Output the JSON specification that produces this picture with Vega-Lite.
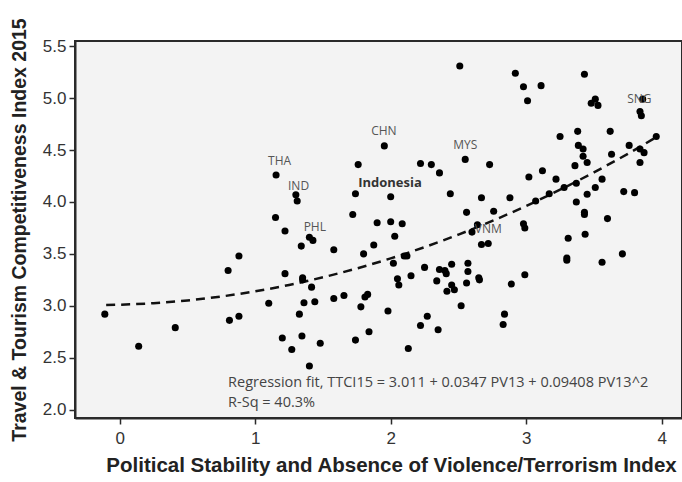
{
  "$schema": "https://vega.github.io/schema/vega-lite/v6.json",
  "width": 607,
  "height": 377,
  "autosize": {"type": "none"},
  "padding": {"left": 75, "top": 41, "right": 0, "bottom": 64},
  "background": "white",
  "config": {
    "view": {"fill": "#f3f3f3", "stroke": "#2a2a2a", "strokeWidth": 2},
    "axis": {
      "grid": false,
      "domainColor": "#2a2a2a",
      "domainWidth": 2,
      "tickColor": "#2a2a2a",
      "tickSize": 6,
      "tickWidth": 1.5,
      "labelFont": "Liberation Sans",
      "labelFontSize": 17,
      "labelColor": "#333",
      "titleFont": "Liberation Sans",
      "titleFontWeight": "bold",
      "titleColor": "#222"
    }
  },
  "datasets": {
    "pts": [
      {"pv": -0.11, "ttci": 2.92}, {"pv": 0.14, "ttci": 2.61}, {"pv": 0.41, "ttci": 2.79},
      {"pv": 0.8, "ttci": 3.34}, {"pv": 0.81, "ttci": 2.86}, {"pv": 0.88, "ttci": 3.48},
      {"pv": 0.88, "ttci": 2.9}, {"pv": 1.1, "ttci": 3.025}, {"pv": 1.154, "ttci": 4.26},
      {"pv": 1.15, "ttci": 3.85}, {"pv": 1.2, "ttci": 2.69}, {"pv": 1.22, "ttci": 3.72},
      {"pv": 1.22, "ttci": 3.31}, {"pv": 1.27, "ttci": 2.58}, {"pv": 1.3, "ttci": 4.07},
      {"pv": 1.31, "ttci": 4.01}, {"pv": 1.34, "ttci": 3.575}, {"pv": 1.35, "ttci": 3.27},
      {"pv": 1.35, "ttci": 3.25}, {"pv": 1.326, "ttci": 2.92}, {"pv": 1.345, "ttci": 2.71},
      {"pv": 1.36, "ttci": 3.03}, {"pv": 1.4, "ttci": 2.42}, {"pv": 1.4, "ttci": 3.66},
      {"pv": 1.426, "ttci": 3.63}, {"pv": 1.416, "ttci": 3.18}, {"pv": 1.44, "ttci": 3.04},
      {"pv": 1.48, "ttci": 2.64}, {"pv": 1.58, "ttci": 3.54}, {"pv": 1.58, "ttci": 3.07},
      {"pv": 1.655, "ttci": 3.1}, {"pv": 1.72, "ttci": 3.88}, {"pv": 1.74, "ttci": 4.08},
      {"pv": 1.76, "ttci": 4.36}, {"pv": 1.74, "ttci": 2.67}, {"pv": 1.78, "ttci": 2.99},
      {"pv": 1.8, "ttci": 3.5}, {"pv": 1.81, "ttci": 3.085}, {"pv": 1.83, "ttci": 3.11},
      {"pv": 1.84, "ttci": 2.75}, {"pv": 1.875, "ttci": 3.585}, {"pv": 1.9, "ttci": 3.8},
      {"pv": 1.953, "ttci": 4.54}, {"pv": 1.98, "ttci": 2.95}, {"pv": 2.0, "ttci": 4.05},
      {"pv": 2.0, "ttci": 3.81}, {"pv": 2.03, "ttci": 3.67}, {"pv": 2.02, "ttci": 3.41},
      {"pv": 2.05, "ttci": 3.26}, {"pv": 2.06, "ttci": 3.2}, {"pv": 2.085, "ttci": 3.79},
      {"pv": 2.1, "ttci": 3.48}, {"pv": 2.12, "ttci": 3.48}, {"pv": 2.13, "ttci": 2.59},
      {"pv": 2.15, "ttci": 3.29}, {"pv": 2.22, "ttci": 4.37}, {"pv": 2.22, "ttci": 2.81},
      {"pv": 2.25, "ttci": 3.37}, {"pv": 2.27, "ttci": 2.9}, {"pv": 2.3, "ttci": 4.36},
      {"pv": 2.34, "ttci": 3.24}, {"pv": 2.35, "ttci": 2.77}, {"pv": 2.36, "ttci": 4.28},
      {"pv": 2.36, "ttci": 3.35}, {"pv": 2.4, "ttci": 3.34}, {"pv": 2.41, "ttci": 3.31},
      {"pv": 2.415, "ttci": 3.14}, {"pv": 2.44, "ttci": 4.08}, {"pv": 2.45, "ttci": 3.4},
      {"pv": 2.45, "ttci": 3.2}, {"pv": 2.47, "ttci": 3.155}, {"pv": 2.51, "ttci": 5.31},
      {"pv": 2.52, "ttci": 3.0}, {"pv": 2.55, "ttci": 4.41}, {"pv": 2.56, "ttci": 3.9},
      {"pv": 2.57, "ttci": 3.41}, {"pv": 2.57, "ttci": 3.33}, {"pv": 2.56, "ttci": 3.22},
      {"pv": 2.6, "ttci": 3.71}, {"pv": 2.64, "ttci": 3.78}, {"pv": 2.65, "ttci": 3.27},
      {"pv": 2.655, "ttci": 3.25}, {"pv": 2.67, "ttci": 4.04}, {"pv": 2.67, "ttci": 3.59},
      {"pv": 2.72, "ttci": 3.6}, {"pv": 2.73, "ttci": 4.36}, {"pv": 2.76, "ttci": 3.91},
      {"pv": 2.83, "ttci": 2.82}, {"pv": 2.84, "ttci": 2.92}, {"pv": 2.88, "ttci": 4.04},
      {"pv": 2.89, "ttci": 3.21}, {"pv": 2.92, "ttci": 5.24}, {"pv": 2.98, "ttci": 5.11},
      {"pv": 2.98, "ttci": 3.79}, {"pv": 2.99, "ttci": 3.75}, {"pv": 2.99, "ttci": 3.3},
      {"pv": 3.01, "ttci": 4.975}, {"pv": 3.02, "ttci": 4.24}, {"pv": 3.07, "ttci": 4.01},
      {"pv": 3.11, "ttci": 5.12}, {"pv": 3.12, "ttci": 4.3}, {"pv": 3.17, "ttci": 4.08},
      {"pv": 3.22, "ttci": 4.22}, {"pv": 3.25, "ttci": 4.63}, {"pv": 3.28, "ttci": 4.14},
      {"pv": 3.3, "ttci": 3.46}, {"pv": 3.3, "ttci": 3.44}, {"pv": 3.31, "ttci": 3.65},
      {"pv": 3.36, "ttci": 4.35}, {"pv": 3.37, "ttci": 4.18}, {"pv": 3.37, "ttci": 4.0},
      {"pv": 3.38, "ttci": 4.68}, {"pv": 3.385, "ttci": 4.545}, {"pv": 3.42, "ttci": 4.51},
      {"pv": 3.42, "ttci": 4.44}, {"pv": 3.43, "ttci": 5.23}, {"pv": 3.43, "ttci": 3.9},
      {"pv": 3.43, "ttci": 3.88}, {"pv": 3.435, "ttci": 3.69}, {"pv": 3.45, "ttci": 4.38},
      {"pv": 3.45, "ttci": 4.075}, {"pv": 3.48, "ttci": 4.95}, {"pv": 3.51, "ttci": 4.99},
      {"pv": 3.53, "ttci": 4.93}, {"pv": 3.51, "ttci": 4.14}, {"pv": 3.56, "ttci": 4.22},
      {"pv": 3.56, "ttci": 3.42}, {"pv": 3.6, "ttci": 3.84}, {"pv": 3.62, "ttci": 4.68},
      {"pv": 3.63, "ttci": 4.46}, {"pv": 3.71, "ttci": 3.5}, {"pv": 3.72, "ttci": 4.1},
      {"pv": 3.76, "ttci": 4.545}, {"pv": 3.8, "ttci": 4.09}, {"pv": 3.84, "ttci": 4.87},
      {"pv": 3.85, "ttci": 4.83}, {"pv": 3.86, "ttci": 4.99}, {"pv": 3.84, "ttci": 4.38},
      {"pv": 3.84, "ttci": 4.51}, {"pv": 3.87, "ttci": 4.475}, {"pv": 3.96, "ttci": 4.63}
    ],
    "curve": [
      {"pv": -0.1, "ttci": 3.008}, {"pv": 0.0, "ttci": 3.011}, {"pv": 0.25, "ttci": 3.026},
      {"pv": 0.5, "ttci": 3.052}, {"pv": 0.75, "ttci": 3.09}, {"pv": 1.0, "ttci": 3.14},
      {"pv": 1.25, "ttci": 3.201}, {"pv": 1.5, "ttci": 3.275}, {"pv": 1.75, "ttci": 3.36},
      {"pv": 2.0, "ttci": 3.457}, {"pv": 2.25, "ttci": 3.565}, {"pv": 2.5, "ttci": 3.686},
      {"pv": 2.75, "ttci": 3.818}, {"pv": 3.0, "ttci": 3.962}, {"pv": 3.25, "ttci": 4.118},
      {"pv": 3.5, "ttci": 4.285}, {"pv": 3.75, "ttci": 4.464}, {"pv": 3.95, "ttci": 4.616}
    ],
    "labels": [
      {"pv": 1.18, "ttci": 4.39, "label": "THA", "bold": false},
      {"pv": 1.32, "ttci": 4.155, "label": "IND", "bold": false},
      {"pv": 1.44, "ttci": 3.76, "label": "PHL", "bold": false},
      {"pv": 1.95, "ttci": 4.68, "label": "CHN", "bold": false},
      {"pv": 2.55, "ttci": 4.545, "label": "MYS", "bold": false},
      {"pv": 2.72, "ttci": 3.74, "label": "VNM", "bold": false},
      {"pv": 3.835, "ttci": 4.99, "label": "SNG", "bold": false},
      {"pv": 1.995, "ttci": 4.18, "label": "Indonesia", "bold": true}
    ],
    "notes": [
      {"pv": 0.8, "ttci": 2.255, "note": "Regression fit, TTCI15 = 3.011 + 0.0347 PV13 + 0.09408 PV13^2"},
      {"pv": 0.8, "ttci": 2.065, "note": "R-Sq = 40.3%"}
    ]
  },
  "encoding": {
    "x": {
      "field": "pv", "type": "quantitative",
      "scale": {"domain": [-0.33, 4.15], "nice": false, "zero": false},
      "axis": {
        "title": "Political Stability and Absence of Violence/Terrorism Index",
        "values": [0, 1, 2, 3, 4], "format": "d",
        "titleFontSize": 20.5, "titlePadding": 9, "labelPadding": 6, "titleX": 316
      }
    },
    "y": {
      "field": "ttci", "type": "quantitative",
      "scale": {"domain": [1.92, 5.55], "nice": false, "zero": false},
      "axis": {
        "title": "Travel & Tourism Competitiveness Index 2015",
        "values": [2, 2.5, 3, 3.5, 4, 4.5, 5, 5.5], "format": ".1f",
        "titleFontSize": 19.5, "titlePadding": 13, "labelPadding": 3
      }
    }
  },
  "layer": [
    {
      "data": {"name": "curve"},
      "mark": {"type": "line", "color": "#111", "strokeWidth": 2.5, "strokeDash": [9, 6], "interpolate": "monotone"}
    },
    {
      "data": {"name": "pts"},
      "mark": {"type": "circle", "size": 50, "color": "#000", "opacity": 1}
    },
    {
      "data": {"name": "labels"},
      "transform": [{"filter": "!datum.bold"}],
      "mark": {"type": "text", "font": "Open Sans", "fontSize": 12, "color": "#555", "align": "center", "baseline": "middle"},
      "encoding": {"text": {"field": "label"}}
    },
    {
      "data": {"name": "labels"},
      "transform": [{"filter": "datum.bold"}],
      "mark": {"type": "text", "font": "Open Sans", "fontSize": 13, "fontWeight": "bold", "color": "#333", "align": "center", "baseline": "middle"},
      "encoding": {"text": {"field": "label"}}
    },
    {
      "data": {"name": "notes"},
      "mark": {"type": "text", "font": "Open Sans", "fontSize": 14.5, "color": "#444", "align": "left", "baseline": "middle"},
      "encoding": {"text": {"field": "note"}}
    }
  ]
}
